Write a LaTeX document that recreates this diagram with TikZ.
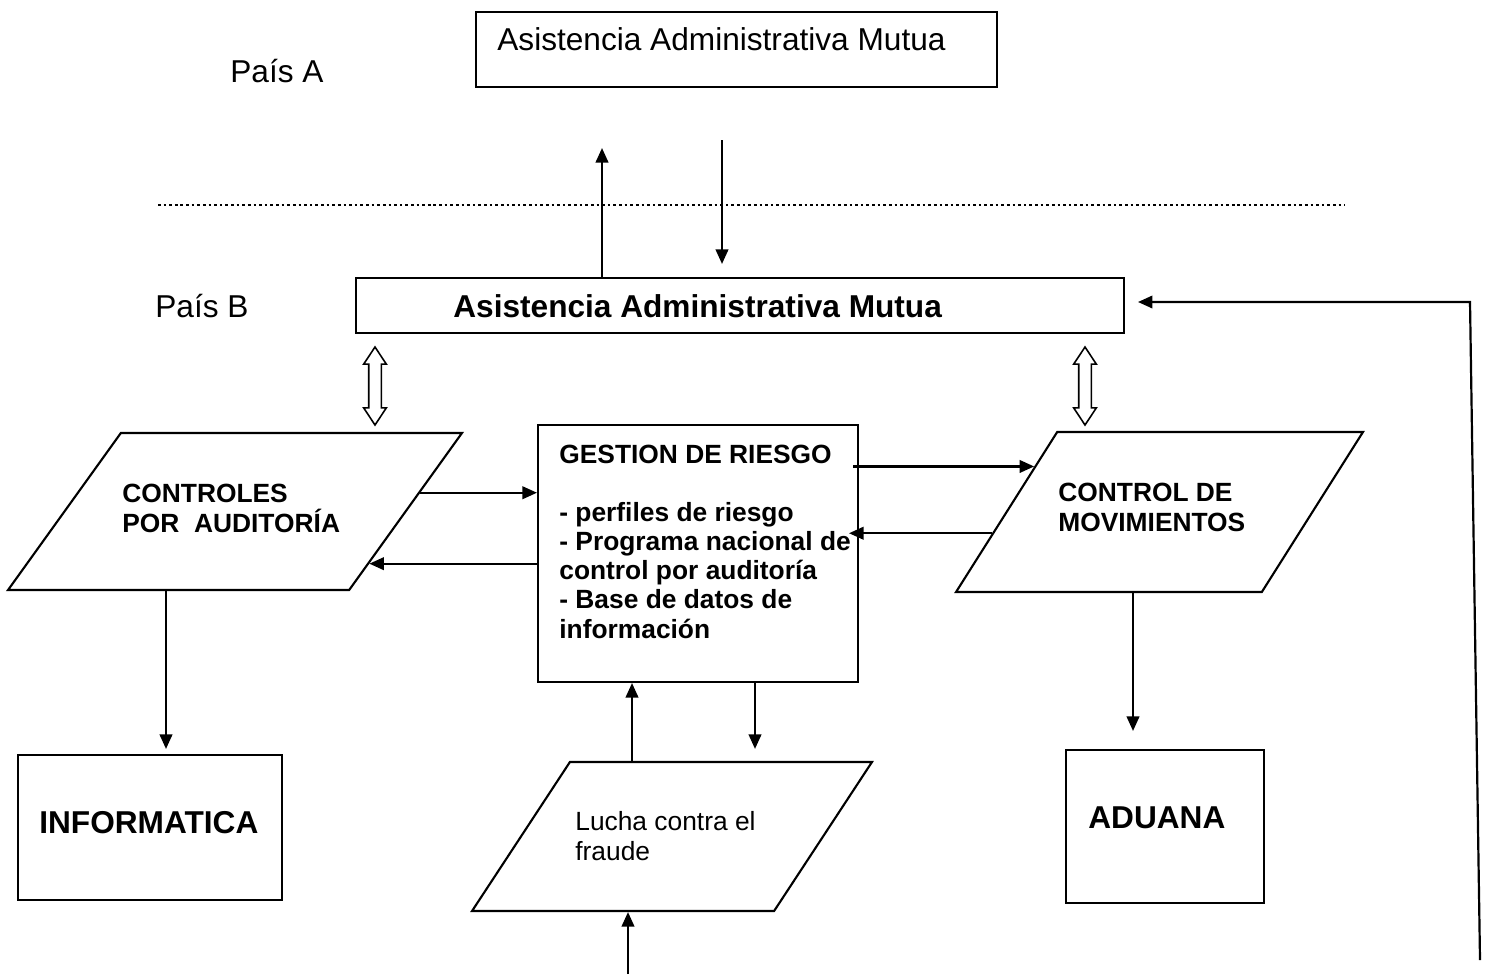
\documentclass[tikz,border=0pt]{standalone}
\usepackage{fontspec}
\setmainfont{Liberation Sans}
\usetikzlibrary{arrows.meta, positioning, shapes.geometric, shapes.arrows, calc}

\begin{document}
\begin{tikzpicture}[x=0.02cm, y=-0.02cm,
            box/.style={draw, line width=1.2pt, inner sep=0pt},
            para/.style={draw, line width=1.2pt, inner sep=0pt, trapezium, trapezium stretches body},
            big/.style={font=\fontsize{18}{21}\selectfont, inner sep=0pt, align=left},
            bigb/.style={big, font=\fontsize{18}{21}\selectfont\bfseries},
            small/.style={font=\fontsize{15}{16.6}\selectfont, inner sep=0pt, align=left},
            smallb/.style={small, font=\fontsize{15}{16.6}\selectfont\bfseries},
            arr/.style={-{Triangle[length=0.29cm, width=0.25cm]}, line width=1.25pt},
            dblarr/.style={double arrow, draw, line width=0.9pt, shape border rotate=90,
                           minimum height=1.56cm, double arrow head extend=0.1cm,
                           double arrow tip angle=67, inner sep=0pt}]

            \useasboundingbox (0,0) rectangle (1490,974);

            % boxes
            \node[box, minimum width=10.42cm, minimum height=1.5cm] (mutA) at (736.5,49.5) {};
            \node[box, minimum width=15.36cm, minimum height=1.1cm] (mutB) at (740,305.5) {};
            \node[box, minimum width=6.4cm, minimum height=5.14cm] (gestion) at (698,553.5) {};
            \node[box, minimum width=5.28cm, minimum height=2.9cm] (informatica) at (150,827.5) {};
            \node[box, minimum width=3.96cm, minimum height=3.06cm] (aduana) at (1165,826.5) {};

            % parallelograms
            \node[para, trapezium left angle=54.3, trapezium right angle=125.7,
                  minimum width=9.08cm] (ctrl) at (235,511.5) {\rule{0pt}{3.14cm}};
            \node[para, trapezium left angle=57.7, trapezium right angle=122.3,
                  minimum width=8.14cm] (mov) at (1159.5,512) {\rule{0pt}{3.2cm}};
            \node[para, trapezium left angle=56.7, trapezium right angle=123.3,
                  minimum width=8cm] (lucha) at (672,836.5) {\rule{0pt}{2.98cm}};

            % texts
            \node[big, anchor=base west] (paisA) at (230,82) {País A};
            \node[big, anchor=base west] (paisB) at (155,317) {País B};
            \node[big, anchor=base west] (mutAtxt) at (497,50) {Asistencia Administrativa Mutua};
            \node[bigb, anchor=base west] (mutBtxt) at (453,317) {Asistencia Administrativa Mutua};
            \node[smallb, anchor=base west] (ctrltxt) at (122,532) {CONTROLES\\POR\ \ AUDITORÍA};
            \node[smallb, anchor=base west] (movtxt) at (1058,531) {CONTROL DE\\MOVIMIENTOS};
            \node[smallb, anchor=base west] (gestxt) at (559,638)
                {GESTION DE RIESGO\\[16.6pt]- perfiles de riesgo\\- Programa nacional de\\control por auditoría\\- Base de datos de\\información};
            \node[small, anchor=base west] (luchatxt) at (575,860) {Lucha contra el\\fraude};
            \node[bigb, anchor=base west] (infotxt) at (39,833) {INFORMATICA};
            \node[bigb, anchor=base west] (adutxt) at (1088,828) {ADUANA};

            % border between the countries
            \draw[line width=1.7pt, dash pattern=on 1.5pt off 1.7pt] (158,205) -- (1345,205);

            % exchange with country A
            \coordinate (upend) at (602,148);
            \coordinate (downstart) at (722,140);
            \draw[arr] (upend |- mutB.north) -- (upend);
            \draw[arr, shorten >=0.26cm] (downstart) -- (downstart |- mutB.north);

            % double arrows
            \node[dblarr] (dblL) at (375,386) {\rule{0.22cm}{0pt}};
            \node[dblarr] (dblR) at (1085,386) {\rule{0.22cm}{0pt}};

            % arrows round the risk box
            \coordinate (a1) at ($(ctrl.top right corner)!0.382!(ctrl.bottom right corner)$);
            \coordinate (a2) at ($(ctrl.top right corner)!0.828!(ctrl.bottom right corner)$);
            \coordinate (a3) at ($(mov.top left corner)!0.219!(mov.bottom left corner)$);
            \coordinate (a4) at ($(mov.top left corner)!0.631!(mov.bottom left corner)$);
            \draw[arr] (a1) -- (a1 -| gestion.west);
            \draw[arr] (a2 -| gestion.west) -- (a2);
            \draw[arr] ($(a3 -| gestion.east)+(-6,0)$) -- (a3);
            \draw[arr] (a4) -- ($(a4 -| gestion.east)+(-10,0)$);

            % down to the services
            \draw[arr, shorten >=0.1cm] (166,0 |- ctrl.south) -- (166,0 |- informatica.north);
            \draw[arr, shorten >=0.36cm] (1133,0 |- mov.south) -- (1133,0 |- aduana.north);
            \draw[arr] (632,0 |- lucha.north) -- (632,0 |- gestion.south);
            \draw[arr, shorten >=0.24cm] (755,0 |- gestion.south) -- (755,0 |- lucha.north);

            % incoming lines
            \coordinate (fraudin) at (628,974);
            \draw[arr] (fraudin) -- (fraudin |- lucha.south);
            \coordinate (fbstart) at (1480,960);
            \coordinate (fbend) at (1470,302);
            \draw[arr, shorten >=0.26cm] (fbstart) -- (fbend) -- (fbend -| mutB.east);
        \end{tikzpicture}
\end{document}
